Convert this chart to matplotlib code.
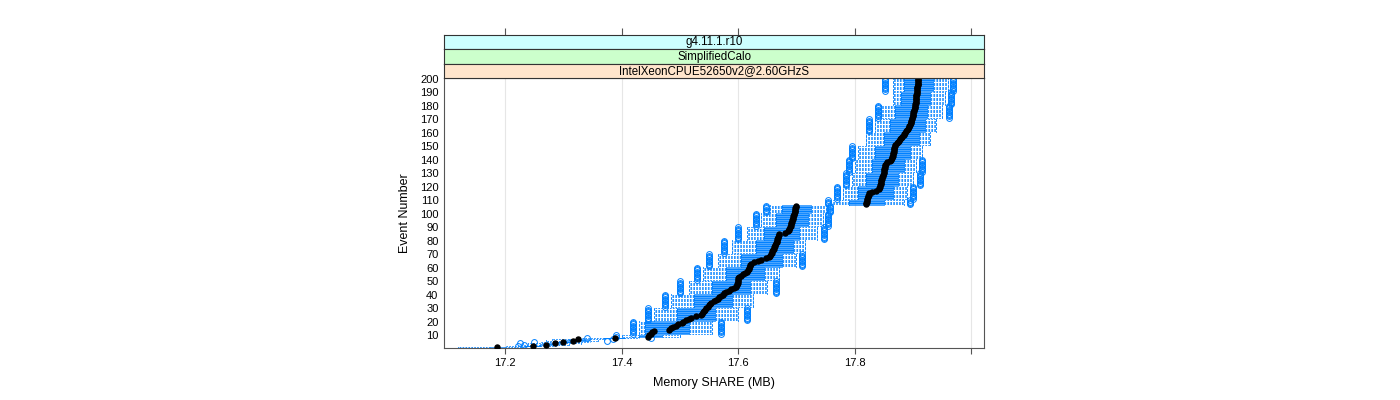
import numpy as np
import matplotlib
matplotlib.use("Agg")
import matplotlib.pyplot as plt

plt.rcParams['font.family'] = ['Liberation Sans', 'DejaVu Sans']

# etiquetas de las tiras (de arriba hacia abajo)
strip_labels = ["g4.11.1.r10", "SimplifiedCalo", "IntelXeonCPUE52650v2@2.60GHzS"]
strip_colors = ["#ccffff", "#ccffcc", "#ffe5cc"]

# mediana por evento (1..200)
medianas = [
    17.187, 17.248, 17.270, 17.286, 17.300, 17.317, 17.326, 17.388, 17.445, 17.447,
    17.450, 17.452, 17.455, 17.481, 17.484, 17.488, 17.493, 17.497, 17.503, 17.506,
    17.510, 17.515, 17.519, 17.528, 17.536, 17.538, 17.540, 17.542, 17.544, 17.545,
    17.548, 17.550, 17.552, 17.553, 17.558, 17.562, 17.565, 17.568, 17.571, 17.574,
    17.576, 17.580, 17.584, 17.588, 17.593, 17.597, 17.598, 17.598, 17.599, 17.600,
    17.600, 17.600, 17.601, 17.605, 17.609, 17.612, 17.615, 17.617, 17.618, 17.619,
    17.620, 17.621, 17.622, 17.628, 17.635, 17.640, 17.648, 17.653, 17.655, 17.657,
    17.658, 17.659, 17.660, 17.661, 17.662, 17.663, 17.664, 17.665, 17.666, 17.666,
    17.667, 17.668, 17.669, 17.670, 17.671, 17.680, 17.686, 17.687, 17.688, 17.689,
    17.690, 17.690, 17.691, 17.692, 17.693, 17.694, 17.695, 17.695, 17.696, 17.696,
    17.697, 17.697, 17.698, 17.698, 17.699, 17.700, 17.820, 17.820, 17.821, 17.822,
    17.822, 17.823, 17.823, 17.824, 17.824, 17.830, 17.836, 17.841, 17.842, 17.843,
    17.844, 17.845, 17.845, 17.846, 17.846, 17.847, 17.847, 17.848, 17.849, 17.850,
    17.850, 17.851, 17.851, 17.852, 17.852, 17.852, 17.853, 17.856, 17.860, 17.862,
    17.864, 17.864, 17.865, 17.866, 17.866, 17.867, 17.867, 17.868, 17.868, 17.869,
    17.870, 17.872, 17.874, 17.876, 17.878, 17.880, 17.882, 17.884, 17.885, 17.887,
    17.888, 17.890, 17.892, 17.893, 17.894, 17.895, 17.896, 17.897, 17.897, 17.898,
    17.899, 17.900, 17.900, 17.901, 17.901, 17.902, 17.902, 17.903, 17.903, 17.904,
    17.904, 17.905, 17.905, 17.905, 17.906, 17.906, 17.906, 17.906, 17.907, 17.907,
    17.907, 17.907, 17.907, 17.907, 17.908, 17.908, 17.908, 17.908, 17.909, 17.909,
]

# bloques de eventos con bigotes / cuartiles / atipicos
bloque_inicio = [1, 2, 3, 4, 5, 6, 7, 8, 9, 11, 21, 31, 41, 51, 61, 71, 81, 91,
                 101, 107, 111, 121, 131, 141, 151, 161, 171, 181, 191]
bigote_inf = [17.120, 17.200, 17.230, 17.240, 17.260, 17.270, 17.280, 17.330, 17.400,
              17.430, 17.455, 17.485, 17.515, 17.540, 17.565, 17.590, 17.615, 17.640,
              17.655, 17.760, 17.780, 17.795, 17.800, 17.805, 17.820, 17.835, 17.845,
              17.866, 17.865]
cuartil_1 = [17.175, 17.235, 17.260, 17.275, 17.290, 17.305, 17.310, 17.370, 17.430,
             17.440, 17.495, 17.525, 17.555, 17.580, 17.605, 17.630, 17.645, 17.665,
             17.675, 17.790, 17.805, 17.820, 17.830, 17.835, 17.850, 17.860, 17.870,
             17.880, 17.885]
cuartil_3 = [17.200, 17.260, 17.285, 17.300, 17.315, 17.335, 17.345, 17.405, 17.470,
             17.515, 17.560, 17.590, 17.620, 17.645, 17.675, 17.695, 17.705, 17.720,
             17.725, 17.850, 17.865, 17.875, 17.885, 17.895, 17.910, 17.920, 17.925,
             17.930, 17.935]
bigote_sup = [17.235, 17.290, 17.310, 17.330, 17.345, 17.360, 17.370, 17.430, 17.500,
              17.555, 17.600, 17.625, 17.650, 17.670, 17.700, 17.715, 17.735, 17.745,
              17.750, 17.885, 17.890, 17.900, 17.905, 17.915, 17.930, 17.940, 17.950,
              17.955, 17.960]
atipicos = [[], [17.222], [17.232], [17.225], [17.250], [17.375], [17.385],
            [17.340, 17.450], [17.390], [17.420, 17.570], [17.445, 17.615], [17.475],
            [17.500, 17.665], [17.530], [17.550, 17.710], [17.575], [17.600, 17.748],
            [17.630, 17.755], [17.648, 17.757], [17.755, 17.895], [17.770, 17.900],
            [17.785, 17.912], [17.790, 17.916], [17.795], [], [17.825],
            [17.840, 17.962], [17.965], [17.852, 17.968]]

eventos = np.arange(1, len(medianas) + 1)
x_ticks = [17.2, 17.4, 17.6, 17.8, 18.0]
x_labels = ["17.2", "17.4", "17.6", "17.8", ""]
y_ticks = list(range(10, 201, 10))

azul = "#0080ff"

fig = plt.figure(figsize=(14, 4), dpi=100)
ax = fig.add_axes([444 / 1400, 1 - 348 / 400, 540 / 1400, 270 / 400])

# estadisticos por evento
stats = []
for i, ev in enumerate(eventos):
    b = np.searchsorted(bloque_inicio, ev, side='right') - 1
    stats.append(dict(med=medianas[i], q1=cuartil_1[b], q3=cuartil_3[b],
                      whislo=bigote_inf[b], whishi=bigote_sup[b],
                      fliers=atipicos[b]))

ax.bxp(stats, positions=eventos, widths=0.5, orientation='horizontal',
       manage_ticks=False, capwidths=0.5,
       boxprops=dict(color=azul, lw=0.5),
       whiskerprops=dict(color=azul, lw=0.6, ls=(0, (2, 1.5))),
       capprops=dict(color=azul, lw=0.6),
       medianprops=dict(lw=0),
       flierprops=dict(marker='o', markerfacecolor='none', markeredgecolor=azul,
                       markersize=4.2, markeredgewidth=0.7))
ax.plot(medianas, eventos, 'o', color='black', markersize=3.6, zorder=5)

for x in x_ticks:
    ax.axvline(x, color='#e6e6e6', lw=0.8, zorder=0)

ax.set_xlim(17.0953, 18.022)
ax.set_ylim(0.5, 200.5)
ax.set_xticks(x_ticks)
ax.set_xticklabels(x_labels, fontsize=8)
ax.set_yticks(y_ticks)
ax.set_yticklabels([str(v) for v in y_ticks], fontsize=8)
ax.tick_params(axis='x', length=4, width=0.8, color='#555555', pad=3)
ax.tick_params(axis='y', length=0, pad=4)
for s in ax.spines.values():
    s.set_color('#555555')
    s.set_linewidth(0.8)
ax.set_xlabel("Memory SHARE (MB)", fontsize=9, labelpad=7)
ax.set_ylabel("Event Number", fontsize=9, labelpad=6)

# tiras superiores (estilo lattice)
alto = 14.3
for k, (txt, col) in enumerate(zip(strip_labels, strip_colors)):
    y0 = 78 - alto * (3 - k)
    sax = fig.add_axes([444 / 1400, 1 - (y0 + alto) / 400, 540 / 1400, alto / 400])
    sax.set_facecolor(col)
    sax.set_xlim(ax.get_xlim())
    sax.set_yticks([])
    sax.set_xticks(x_ticks)
    sax.tick_params(axis='x', bottom=False, labelbottom=False,
                    top=(k == 0), length=5, width=0.8, color='#555555')
    for s in sax.spines.values():
        s.set_color('#333333')
        s.set_linewidth(0.8)
    sax.text(0.5, 0.5, txt, transform=sax.transAxes, ha='center', va='center',
             fontsize=8.3)

fig.savefig("out.png", dpi=100)
